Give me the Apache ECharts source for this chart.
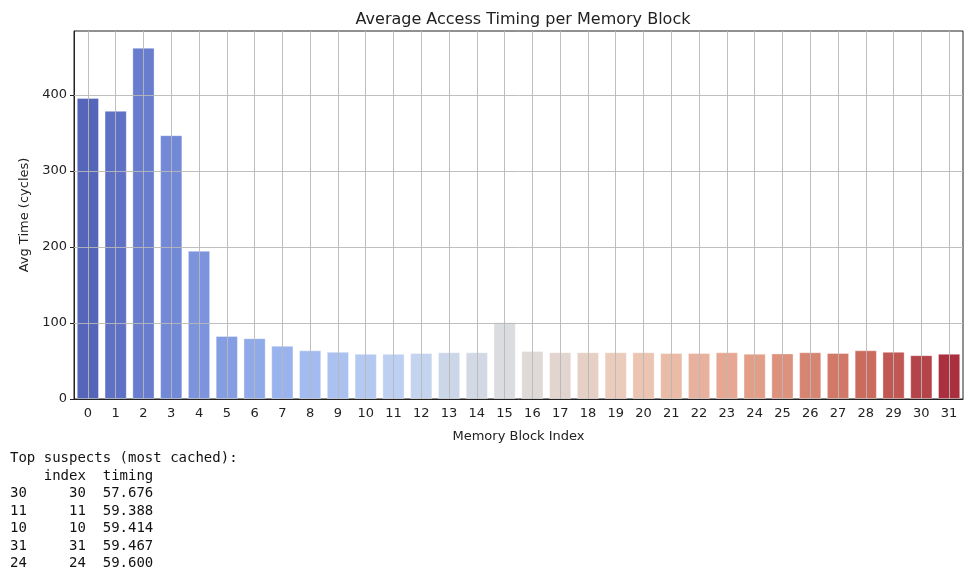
<!DOCTYPE html>
<html>
<head>
<meta charset="utf-8">
<script src="https://cdn.jsdelivr.net/npm/echarts@6/dist/echarts.min.js"></script>
<style>
html,body{margin:0;padding:0;background:#fff;}
#chart{width:972px;height:578px;}
</style>
</head>
<body>
<div id="chart"></div>
<script>
// block indices and average timings (cycles)
var blocks = [];
for (var b = 0; b < 32; b++) blocks.push(String(b));
var timings = [396, 379, 462, 347, 195, 83, 80, 70, 64, 62, 59.414, 59.388, 60.5, 61.5, 61.5, 101,
               63, 61.5, 61.5, 61.5, 61.5, 60.5, 60.5, 61.5, 59.6, 60, 61.5, 60.5, 64, 62, 57.676, 59.467];
var yTicks = [0, 100, 200, 300, 400];

// printed table of top suspects
var suspectRows = [30, 11, 10, 31, 24];
var suspectIndex = [30, 11, 10, 31, 24];
var suspectTiming = [57.676, 59.388, 59.414, 59.467, 59.600];

// coolwarm anchors
var cw = [[59,76,192],[98,130,234],[141,176,254],[184,208,249],[221,221,221],
          [245,196,173],[244,154,123],[222,96,77],[180,4,38]];
function coolwarm(t){
    var p = t*(cw.length-1), i = Math.min(Math.floor(p), cw.length-2), f = p-i;
    return [0,1,2].map(function(k){ return cw[i][k] + (cw[i+1][k]-cw[i][k])*f; });
}
// seaborn style desaturation (hls, s*0.75)
function desat(rgb, prop){
    var r=rgb[0]/255,g=rgb[1]/255,bl=rgb[2]/255;
    var mx=Math.max(r,g,bl), mn=Math.min(r,g,bl), l=(mx+mn)/2, h=0, s=0;
    if(mx!==mn){
        var d=mx-mn;
        s = l>0.5 ? d/(2-mx-mn) : d/(mx+mn);
        if(mx===r) h=((g-bl)/d+(g<bl?6:0))/6;
        else if(mx===g) h=((bl-r)/d+2)/6;
        else h=((r-g)/d+4)/6;
    }
    s*=prop;
    function hue(p,q,t){ if(t<0)t+=1; if(t>1)t-=1; if(t<1/6)return p+(q-p)*6*t; if(t<1/2)return q; if(t<2/3)return p+(q-p)*(2/3-t)*6; return p; }
    if(s===0) return 'rgb('+Math.round(l*255)+','+Math.round(l*255)+','+Math.round(l*255)+')';
    var q = l<0.5 ? l*(1+s) : l+s-l*s, p = 2*l-q;
    return 'rgb('+Math.round(hue(p,q,h+1/3)*255)+','+Math.round(hue(p,q,h)*255)+','+Math.round(hue(p,q,h-1/3)*255)+')';
}
var colors = blocks.map(function(_, i){ return desat(coolwarm((i+1)/(blocks.length+1)), 0.75); });

function padL(s, n){ s = String(s); while (s.length < n) s = ' ' + s; return s; }
function padR(s, n){ s = String(s); while (s.length < n) s = s + ' '; return s; }
var tableLines = ['Top suspects (most cached):', '    index  timing'];
for (var r = 0; r < suspectRows.length; r++) {
    tableLines.push(padR(suspectRows[r], 2) + '  ' + padL(suspectIndex[r], 5) + '  ' + suspectTiming[r].toFixed(3));
}

var gridColor = '#b8b8b8';
var gridLines = [];
blocks.forEach(function(c){ gridLines.push({xAxis: c}); });
yTicks.forEach(function(v){ if (v > 0) gridLines.push({yAxis: v}); });

var myChart = echarts.init(document.getElementById('chart'));
var option = {
    animation: false,
    title: {
        text: 'Average Access Timing per Memory Block',
        left: 518, top: 7, textAlign: 'center',
        textStyle: {fontFamily: 'DejaVu Sans', fontSize: 16, fontWeight: 'normal', color: '#222'}
    },
    grid: {left: 74, right: 9, top: 31, bottom: 179, show: true, borderColor: '#222', borderWidth: 1, backgroundColor: 'transparent'},
    xAxis: {
        type: 'category',
        data: blocks,
        name: 'Memory Block Index',
        nameLocation: 'middle',
        nameGap: 31,
        nameTextStyle: {fontFamily: 'DejaVu Sans', fontSize: 13, color: '#222'},
        axisLine: {lineStyle: {color: '#222'}},
        axisTick: {alignWithLabel: true, length: 4, lineStyle: {color: '#222'}},
        axisLabel: {fontFamily: 'DejaVu Sans', fontSize: 13, color: '#222', margin: 8, interval: 0},
        splitLine: {show: false}
    },
    yAxis: {
        type: 'value',
        min: 0, max: 484,
        name: 'Avg Time (cycles)',
        nameLocation: 'middle',
        nameGap: 42,
        nameTextStyle: {fontFamily: 'DejaVu Sans', fontSize: 13, color: '#222'},
        axisLine: {show: true, lineStyle: {color: '#222'}},
        axisTick: {show: true, length: 4, customValues: yTicks, lineStyle: {color: '#222'}},
        axisLabel: {fontFamily: 'DejaVu Sans', fontSize: 13, color: '#222', margin: 7, customValues: yTicks},
        splitLine: {show: false}
    },
    series: [{
        type: 'bar',
        data: timings.map(function(v, i){ return {value: v, itemStyle: {color: colors[i]}}; }),
        barCategoryGap: '20%',
        itemStyle: {borderColor: 'rgba(255,255,255,0.35)', borderWidth: 1},
        markLine: {
            silent: true,
            symbol: 'none',
            label: {show: false},
            lineStyle: {color: gridColor, width: 1, type: 'solid', opacity: 0.9},
            data: gridLines,
            animation: false
        }
    }],
    graphic: [{
        type: 'text',
        left: 10, top: 450,
        style: {
            text: tableLines.join('\n'),
            fontFamily: 'DejaVu Sans Mono',
            fontSize: 14,
            lineHeight: 17.5,
            fill: '#111'
        }
    }]
};
myChart.setOption(option);
</script>
</body>
</html>
